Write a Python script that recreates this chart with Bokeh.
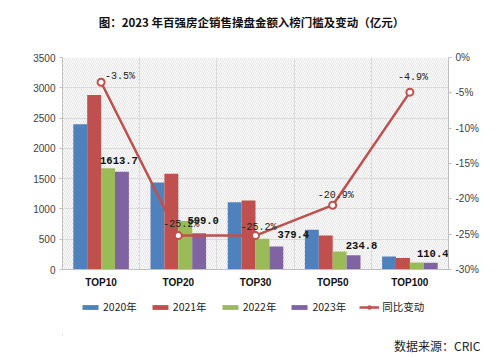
from bokeh.plotting import figure
from bokeh.layouts import column
from bokeh.models import (Range1d, LinearAxis, FixedTicker, ColumnDataSource,
                          Legend, LegendItem, Label, BoxAnnotation)
from bokeh.core.properties import value
from bokeh.embed import file_html
from bokeh.resources import INLINE

# ---- data ----
categories = ["TOP10", "TOP20", "TOP30", "TOP50", "TOP100"]
years = ["2020年", "2021年", "2022年", "2023年"]
v2020 = [2400, 1435, 1110, 655, 215]
v2021 = [2880, 1580, 1140, 560, 190]
v2022 = [1672, 801, 507, 297, 116]
v2023 = [1613.7, 599.0, 379.4, 234.8, 110.4]
yoy = [-3.5, -25.2, -25.2, -20.9, -4.9]
line_name = "同比变动"
title_text = "图：2023 年百强房企销售操盘金额入榜门槛及变动（亿元）"
source_note = "数据来源：CRIC"
left_ticks = [0, 500, 1000, 1500, 2000, 2500, 3000, 3500]
right_ticks = [-30, -25, -20, -15, -10, -5, 0]

# ---- styles ----
colors = ["#4F81BD", "#C0504D", "#9BBB59", "#8064A2"]
line_color = "#C0504D"
bar_w = 0.18
bar_offsets = [-0.27, -0.09, 0.09, 0.27]
bar_lab_dx = [-3, 4, 17, 8, 2]
bar_lab_dy = [-11, -13, -12, -10, -9]
pct_lab_dx = [19, 3, 3, 3, 3]
pct_lab_dy = [-6, -11, -8, -10, -15]

W = 500
H0, H1, H2 = 50, 245, 62          # title strip, chart, legend strip
FL, FR = 62, 448                  # frame left/right in page pixels


def strip(h, **kw):
    f = figure(width=W, height=h, output_backend="svg", toolbar_location=None,
               x_range=Range1d(FL, FR), y_range=Range1d(0, h),
               x_axis_location=None, y_axis_location=None,
               min_border=0, min_border_left=FL, min_border_right=W - FR,
               outline_line_color=None,
               background_fill_color="white", border_fill_color="white", **kw)
    f.grid.visible = False
    return f


# ---- title strip ----
t = strip(H0)
t.add_layout(Label(x=251, y=29, text=title_text, text_align="center",
                   text_baseline="middle", text_font="Noto Sans CJK SC",
                   text_font_style="bold", text_font_size="11.5px",
                   text_color="#111111"))

# ---- main chart ----
p = figure(width=W, height=H1, output_backend="svg", toolbar_location=None,
           x_range=Range1d(0, len(categories)), y_range=Range1d(0, 3500),
           min_border_left=FL, min_border_right=W - FR, min_border_top=7,
           min_border_bottom=26, outline_line_color=None,
           background_fill_color="white", border_fill_color="white")
p.extra_y_ranges = {"pct": Range1d(-30, 0)}

p.add_layout(BoxAnnotation(fill_color="white", fill_alpha=0, line_color=None,
                           hatch_pattern="\\", hatch_color="#dcdcdc",
                           hatch_scale=4, hatch_weight=0.8, level="underlay"))

xs = [i + 0.5 for i in range(len(categories))]
series = [v2020, v2021, v2022, v2023]
for k, vals in enumerate(series):
    p.vbar(x=[x + bar_offsets[k] for x in xs], top=vals, width=bar_w,
           fill_color=colors[k], line_color=None)

src23 = ColumnDataSource(dict(x=[x + bar_offsets[3] for x in xs], y=v2023,
                              t=["%.1f" % v for v in v2023],
                              dx=bar_lab_dx, dy=bar_lab_dy))
p.text(x="x", y="y", text="t", x_offset="dx", y_offset="dy", source=src23,
       text_align="center", text_baseline="middle", text_font_size="10.5px",
       text_font=value("Liberation Mono"), text_font_style="bold", text_color="#111111")

p.line(x=xs, y=yoy, y_range_name="pct", line_color=line_color, line_width=2.5)
p.scatter(x=xs, y=yoy, y_range_name="pct", marker="circle", size=7,
          fill_color="white", line_color=line_color, line_width=2)
srcp = ColumnDataSource(dict(x=xs, y=yoy, t=["%.1f%%" % v for v in yoy],
                             dx=pct_lab_dx, dy=pct_lab_dy))
p.text(x="x", y="y", text="t", x_offset="dx", y_offset="dy", source=srcp,
       y_range_name="pct", text_align="center", text_baseline="middle",
       text_font_size="10px", text_font=value("Liberation Mono"), text_color="#222222")

ax = p.xaxis[0]
ax.ticker = FixedTicker(ticks=xs)
ax.major_label_overrides = {x: c for x, c in zip(xs, categories)}
ax.major_tick_line_color = None
ax.major_tick_out = 0
ax.major_tick_in = 0
ax.minor_tick_line_color = None
ax.axis_line_color = "#bfbfbf"
ax.major_label_text_font = "Liberation Sans"
ax.major_label_text_font_style = "bold"
ax.major_label_text_font_size = "10px"
ax.major_label_text_color = "#111111"
ax.major_label_standoff = 7

ay = p.yaxis[0]
ay.ticker = FixedTicker(ticks=left_ticks)
ay.minor_tick_line_color = None
ay.major_tick_in = 0
ay.major_tick_out = 3
ay.major_tick_line_color = "#bfbfbf"
ay.axis_line_color = "#bfbfbf"
ay.major_label_text_font = "Liberation Sans"
ay.major_label_text_font_size = "10px"
ay.major_label_text_color = "#404040"
ay.major_label_standoff = 4

ar = LinearAxis(y_range_name="pct", ticker=FixedTicker(ticks=right_ticks))
ar.major_label_overrides = {tk: "%d%%" % tk for tk in right_ticks}
ar.minor_tick_line_color = None
ar.major_tick_in = 0
ar.major_tick_out = 3
ar.major_tick_line_color = "#bfbfbf"
ar.axis_line_color = "#bfbfbf"
ar.major_label_text_font = "Liberation Sans"
ar.major_label_text_font_size = "10px"
ar.major_label_text_color = "#404040"
ar.major_label_standoff = 4
p.add_layout(ar, "right")

p.xgrid.ticker = FixedTicker(ticks=[1, 2, 3, 4])
p.xgrid.grid_line_color = "#d9d9d9"
p.ygrid.ticker = FixedTicker(ticks=left_ticks)
p.ygrid.grid_line_color = "#d9d9d9"

# ---- legend + source strip ----
q = strip(H2, title=source_note, title_location="below")
q.min_border_bottom = 22
q.title.align = "right"
q.title.offset = -32
q.title.standoff = 0
q.title.vertical_align = "middle"
q.title.text_font = "Noto Sans CJK SC"
q.title.text_font_style = "normal"
q.title.text_font_size = "12px"
q.title.text_color = "#222222"

off = [-1e6]
legend_rs = []
for k in range(4):
    legend_rs.append([q.vbar(x=off, top=[1], width=1, fill_color=colors[k], line_color=None)])
legend_rs.append([q.line(x=[off[0], off[0] + 1], y=[1, 1], line_color=line_color, line_width=2.5),
                  q.scatter(x=off, y=[1], marker="circle", size=7, fill_color="white",
                            line_color=line_color, line_width=2)])
items = [LegendItem(label=lab, renderers=rs) for lab, rs in zip(years + [line_name], legend_rs)]
leg = Legend(items=items, orientation="horizontal", location=(80 - FL, 21),
             glyph_width=20, glyph_height=6, label_standoff=3, spacing=13,
             label_height=14, label_text_baseline="middle",
             label_text_font="Noto Sans CJK SC", label_text_font_size="10.5px",
             label_text_color="#222222", border_line_color=None,
             background_fill_alpha=0, padding=0, margin=0)
q.add_layout(leg)

open("out.html", "w").write(file_html(column(t, p, q, spacing=0), INLINE))
